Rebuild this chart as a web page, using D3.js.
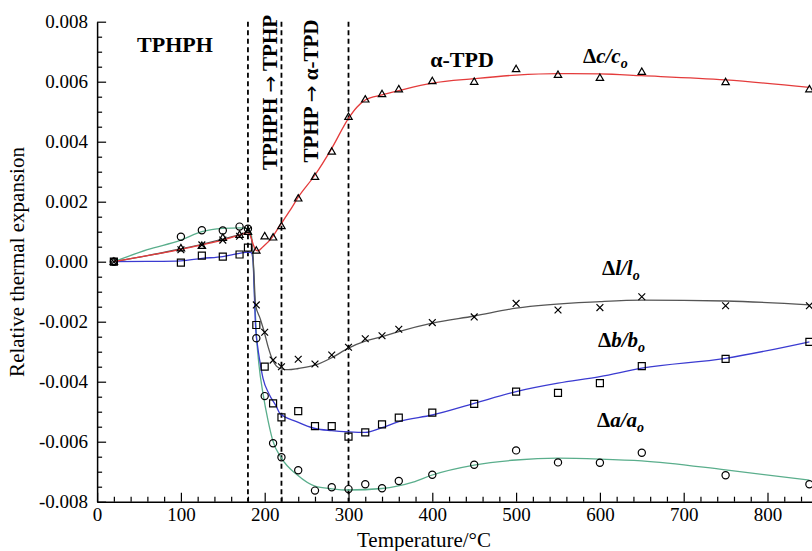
<!DOCTYPE html>
<html>
<head>
<meta charset="utf-8">
<script src="https://cdn.jsdelivr.net/npm/d3@7"></script>
<style>
  body { margin: 0; background: #fff; }
  svg { display: block; }
  text { font-family: "Liberation Serif", "Times New Roman", serif; fill: #000; }
</style>
</head>
<body>
<div class="container"></div>
<script>
// measured temperatures (°C)
const temps = [20, 100, 125, 150, 170, 180, 190, 200, 210, 220, 240, 260, 280, 300,
               320, 340, 360, 400, 450, 500, 550, 600, 650, 750, 850];

// measured relative expansions (markers)
const dcPoints = [0, 0.00045, 0.00053, 0.0008, 0.0009, 0.001, 0.00037, 0.00085, 0.00081, 0.00119, 0.00211,
  0.00283, 0.00367, 0.00483, 0.00541, 0.00559, 0.00575, 0.00602, 0.0060, 0.00642, 0.00623, 0.00613,
  0.00633, 0.00599, 0.00575];
const dlPoints = [0, 0.0004, 0.00056, 0.00072, 0.00085, 0.00105, -0.00144, -0.00235, -0.00328, -0.0035,
  -0.00325, -0.00341, -0.00311, -0.00285, -0.00257, -0.00247, -0.00225, -0.00203, -0.00184, -0.00139,
  -0.00161, -0.00153, -0.00117, -0.00147, -0.00147];
const dbPoints = [0, -0.00003, 0.0002, 0.00017, 0.00024, 0.00047, -0.00211, -0.0035, -0.00472, -0.00519,
  -0.00498, -0.00548, -0.00548, -0.00583, -0.00569, -0.00542, -0.0052, -0.00503, -0.00474, -0.00433,
  -0.00437, -0.00405, -0.00348, -0.00324, -0.00267];
const daPoints = [0, 0.00083, 0.00105, 0.00104, 0.00117, 0.0011, -0.00255, -0.00448, -0.00605, -0.00652,
  -0.00695, -0.00763, -0.00752, -0.00758, -0.00742, -0.00755, -0.00731, -0.0071, -0.00677, -0.00629,
  -0.00669, -0.0067, -0.00637, -0.00712, -0.00742];

// fitted curves as [T, value]
const dcFit = [[20, 0], [60, 0.0002], [100, 0.00041], [125, 0.00056], [150, 0.00072], [170, 0.00089],
  [180, 0.00097], [183, 0.00086], [186, 0.0006], [189, 0.0004], [192, 0.00036], [198, 0.0005],
  [208, 0.00078], [218, 0.0012], [230, 0.0017], [240, 0.00215], [260, 0.00289], [280, 0.00378],
  [300, 0.00478], [310, 0.00515], [320, 0.00539], [340, 0.00556], [360, 0.0057], [400, 0.00595],
  [450, 0.0061], [500, 0.00622], [550, 0.00627], [600, 0.00626], [650, 0.0062], [750, 0.00606],
  [850, 0.00581]];
const dlFit = [[20, 0], [60, 0.0002], [100, 0.00043], [125, 0.00058], [150, 0.00075], [170, 0.0009],
  [180, 0.00098], [184, 0.0008], [186, 0.0002], [187.5, -0.0006], [189, -0.00142], [194.5, -0.00189],
  [199.5, -0.00235], [204, -0.00283], [209.5, -0.00328], [214, -0.00348], [220, -0.00357],
  [228, -0.0036], [240, -0.00356], [260, -0.00345], [280, -0.0032], [300, -0.00288], [320, -0.00265],
  [340, -0.0025], [360, -0.00233], [400, -0.00205], [450, -0.00181], [500, -0.00155], [600, -0.00133],
  [650, -0.00128], [750, -0.00131], [850, -0.00144]];
const dbFit = [[20, 0], [60, 0.00001], [100, 0.00003], [125, 0.00011], [150, 0.00017], [170, 0.00028],
  [180, 0.00032], [184, 0.0003], [186, 0.00006], [187.6, -0.00105], [189, -0.00211], [191.6, -0.00283],
  [194, -0.00328], [198, -0.00389], [205, -0.0044], [214, -0.00483], [218, -0.00505], [238, -0.00533],
  [260, -0.00556], [280, -0.00563], [300, -0.00567], [320, -0.00569], [340, -0.00553], [360, -0.00533],
  [400, -0.00511], [450, -0.00472], [500, -0.00433], [550, -0.00405], [600, -0.00383], [650, -0.00355],
  [750, -0.00322], [850, -0.00267]];
const daFit = [[20, 0], [60, 0.0004], [100, 0.00072], [125, 0.001], [150, 0.00111], [170, 0.00113],
  [180, 0.0011], [184, 0.0009], [186, 0.0002], [188, -0.0012], [190, -0.0024], [193, -0.0034],
  [198, -0.0044], [204, -0.0053], [209.5, -0.00595], [220, -0.00655], [239, -0.00711], [260, -0.00748],
  [280, -0.00757], [300, -0.00761], [340, -0.00756], [377, -0.00735], [400, -0.00711], [450, -0.00678],
  [500, -0.00661], [550, -0.00655], [600, -0.00658], [650, -0.00664], [750, -0.00694], [850, -0.00728]];

// phase boundaries (°C)
const boundaries = [180, 220, 300];

// axis ticks
const xTicks = [0, 100, 200, 300, 400, 500, 600, 700, 800];
const yTicks = [-0.008, -0.006, -0.004, -0.002, 0, 0.002, 0.004, 0.006, 0.008];

const serif = '"Liberation Serif", "Times New Roman", serif';
const width = 812, height = 551;
const marginLeft = 97.1, marginTop = 21.7, plotH = 480;

const x = d3.scaleLinear().domain([0, 860]).range([marginLeft, marginLeft + 860 * 0.838]);
const y = d3.scaleLinear().domain([-0.008, 0.008]).range([marginTop + plotH, marginTop]);

const svg = d3.select('.container')
    .append('svg')
    .attr('width', width)
    .attr('height', height);

svg.append('rect').attr('width', width).attr('height', height).attr('fill', '#fff');

// minor ticks
const xMinor = d3.range(0, 861, 20).filter(v => v % 100 !== 0);
const yMinor = d3.range(-16, 17).map(i => i * 0.0005).filter(v => Math.abs(Math.round(v * 1e4)) % 20 !== 0);

svg.append('g')
    .attr('transform', `translate(0,${y(-0.008)})`)
    .call(d3.axisBottom(x).tickValues(xMinor).tickFormat('').tickSize(-5).tickSizeOuter(0))
    .call(g => g.select('.domain').remove());
svg.append('g')
    .attr('transform', `translate(${x(0)},0)`)
    .call(d3.axisLeft(y).tickValues(yMinor).tickFormat('').tickSize(-5).tickSizeOuter(0))
    .call(g => g.select('.domain').remove());

const xAxis = svg.append('g')
    .attr('transform', `translate(0,${y(-0.008)})`)
    .call(d3.axisBottom(x).tickValues(xTicks).tickSize(-9).tickSizeOuter(0).tickPadding(6));
const yAxis = svg.append('g')
    .attr('transform', `translate(${x(0)},0)`)
    .call(d3.axisLeft(y).tickValues(yTicks).tickSize(-9).tickSizeOuter(0).tickPadding(9)
        .tickFormat(v => v.toFixed(3)));

[xAxis, yAxis].forEach(g => {
    g.attr('font-family', serif).attr('font-size', 19);
    g.selectAll('text').style('font-family', serif).attr('font-size', 19).attr('fill', '#000');
    g.select('.domain').attr('stroke', '#000').attr('stroke-width', 1.5);
});
svg.selectAll('.tick line').attr('stroke', '#000').attr('stroke-width', 1.2);

// phase boundary dashed lines
svg.append('g')
    .selectAll('line')
    .data(boundaries)
    .join('line')
    .attr('x1', d => x(d)).attr('x2', d => x(d))
    .attr('y1', y(0.008)).attr('y2', y(-0.008))
    .attr('stroke', '#000')
    .attr('stroke-width', 1.8)
    .attr('stroke-dasharray', '5,3.5');

// fitted curves
const line = d3.line().x(d => x(d[0])).y(d => y(d[1])).curve(d3.curveMonotoneX);
const fits = [
    {data: daFit, color: '#5aae8c'},
    {data: dbFit, color: '#3b3bd1'},
    {data: dlFit, color: '#555'},
    {data: dcFit, color: '#e43b3b'}
];
svg.append('g')
    .attr('fill', 'none')
    .attr('stroke-width', 1.3)
    .selectAll('path')
    .data(fits)
    .join('path')
    .attr('stroke', d => d.color)
    .attr('d', d => line(d.data));

// markers
const shapes = {
    square: 'M-3.5,-3.5h7v7h-7z',
    triangle: 'M0,-3.8L3.7,2.6L-3.7,2.6Z',
    cross: 'M-3.4,-3.4L3.4,3.4M3.4,-3.4L-3.4,3.4',
    circle: 'M3.6,0A3.6,3.6 0 1 1 -3.6,0A3.6,3.6 0 1 1 3.6,0Z'
};
const series = [
    {values: daPoints, shape: 'circle'},
    {values: dbPoints, shape: 'square'},
    {values: dlPoints, shape: 'cross'},
    {values: dcPoints, shape: 'triangle'}
];
series.forEach(s => {
    svg.append('g')
        .attr('fill', 'none')
        .attr('stroke', '#000')
        .attr('stroke-width', 1.2)
        .selectAll('path')
        .data(temps.map((t, i) => [t, s.values[i]]))
        .join('path')
        .attr('transform', d => `translate(${x(d[0])},${y(d[1])})`)
        .attr('d', shapes[s.shape]);
});

// axis titles
svg.append('text')
    .attr('x', 424).attr('y', 547)
    .attr('text-anchor', 'middle')
    .attr('font-size', 21)
    .text('Temperature/°C');
svg.append('text')
    .attr('transform', 'translate(24,262) rotate(-90)')
    .attr('text-anchor', 'middle')
    .attr('font-size', 21)
    .text('Relative thermal expansion');

// phase annotations
svg.append('text')
    .attr('x', 175).attr('y', 52)
    .attr('text-anchor', 'middle')
    .attr('font-size', 22).attr('font-weight', 'bold')
    .text('TPHPH');
svg.append('text')
    .attr('x', 462).attr('y', 67)
    .attr('text-anchor', 'middle')
    .attr('font-size', 22).attr('font-weight', 'bold')
    .text('α-TPD');

function transitionLabel(px, py, from, to) {
    const t = svg.append('text')
        .attr('transform', `translate(${px},${py}) rotate(-90)`)
        .attr('text-anchor', 'middle')
        .attr('font-size', 21).attr('font-weight', 'bold');
    t.append('tspan').text(from + ' ');
    t.append('tspan').style('font-family', '"DejaVu Sans", sans-serif').attr('font-weight', 'normal')
        .attr('font-size', 20).text('→');
    t.append('tspan').text(' ' + to);
}
transitionLabel(277, 92.5, 'TPHPH', 'TPHP');
transitionLabel(318, 91, 'TPHP', 'α-TPD');

// series labels
function deltaLabel(px, py, letter) {
    const t = svg.append('text')
        .attr('x', px).attr('y', py)
        .attr('font-size', 21).attr('font-weight', 'bold');
    t.append('tspan').text('Δ');
    t.append('tspan').attr('font-style', 'italic').text(letter);
    t.append('tspan').attr('font-style', 'italic').text('/');
    t.append('tspan').attr('font-style', 'italic').text(letter);
    t.append('tspan').attr('font-style', 'italic').attr('font-size', 14).attr('dy', 5).text('o');
}
deltaLabel(583, 63, 'c');
deltaLabel(602, 275, 'l');
deltaLabel(598, 347, 'b');
deltaLabel(597, 427, 'a');
</script>
</body>
</html>
